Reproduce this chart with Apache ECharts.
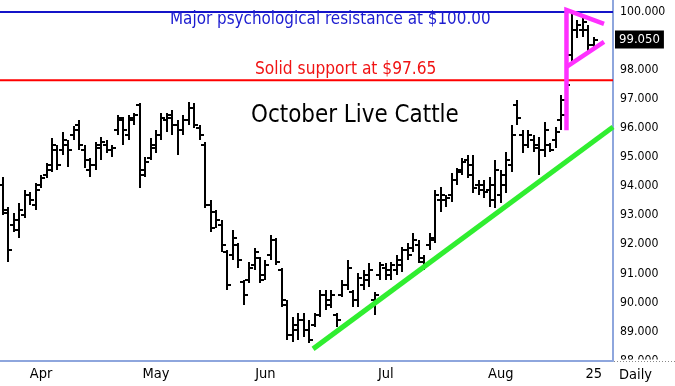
<!DOCTYPE html>
<html><head><meta charset="utf-8">
<script src="https://cdn.jsdelivr.net/npm/echarts@6/dist/echarts.min.js"></script>
<style>html,body{margin:0;padding:0;background:#fff}#c{width:675px;height:386px}</style>
</head><body><div id="c"></div>
<script>
// ---- data (October Live Cattle, daily OHLC) ----
const openP = [94.04,93.18,92.66,92.49,93.01,93.70,93.35,94.04,94.39,94.56,
 95.25,95.25,95.42,95.76,96.11,95.25,94.56,94.73,95.42,95.42,
 95.25,95.94,96.28,95.76,96.35,96.80,94.56,94.97,95.32,95.76,
 96.28,96.45,96.11,95.94,96.28,96.69,96.01,95.42,93.35,93.11,
 92.66,91.74,91.63,91.98,90.70,90.77,91.29,91.53,90.94,91.63,
 92.15,91.12,89.91,88.88,89.05,89.39,89.05,89.22,89.57,90.25,
 90.08,89.57,90.25,90.60,90.36,90.08,90.60,90.77,90.08,90.94,
 91.18,91.12,91.12,91.29,91.80,91.87,91.98,91.39,91.98,92.15,
 93.53,93.53,93.70,94.21,94.56,94.90,94.73,94.04,94.04,93.87,
 93.53,93.70,94.04,94.73,96.80,95.76,95.42,95.59,95.42,95.25,
 95.42,95.59,96.28,96.45,98.52,99.38,99.38,99.38,98.86];
const highP = [94.32,93.29,93.08,93.42,93.87,93.80,94.11,94.39,94.80,95.66,
 95.42,95.87,95.59,96.07,96.28,95.42,94.97,95.52,95.70,95.59,
 95.42,96.45,96.38,96.45,96.52,96.87,95.01,95.66,95.94,96.52,
 96.52,96.63,96.28,96.45,96.90,96.87,96.11,95.52,93.53,93.18,
 92.84,91.80,92.49,92.05,90.77,91.39,91.87,91.56,91.46,92.32,
 92.22,91.18,90.08,89.50,89.63,89.63,89.39,89.63,90.43,90.43,
 90.43,89.63,90.77,91.46,90.43,91.01,91.12,91.36,90.36,91.39,
 91.36,91.39,91.63,91.91,92.05,92.39,92.15,91.63,92.39,93.87,
 93.97,93.70,94.46,94.63,94.97,95.08,95.08,94.21,94.21,94.32,
 94.90,94.56,95.18,96.11,96.97,95.94,95.94,95.76,95.70,96.21,
 95.49,96.04,97.14,97.66,100.00,99.72,99.90,99.55,99.14];
const lowP = [93.01,91.39,92.42,92.22,92.91,93.35,93.18,93.94,94.28,94.49,
 94.56,95.08,94.66,95.59,95.25,94.63,94.32,94.56,94.90,95.14,
 95.01,95.76,95.42,95.59,96.11,93.94,94.32,94.90,95.14,95.59,
 95.87,95.76,95.08,95.76,96.11,96.01,95.59,93.25,92.42,92.56,
 91.74,90.43,91.46,91.18,89.91,90.67,91.12,90.67,90.77,91.46,
 91.29,89.84,88.71,88.64,88.71,88.81,88.60,89.15,89.50,89.74,
 89.81,89.15,90.19,90.43,89.84,89.84,90.43,90.53,89.57,90.77,
 90.77,90.77,90.94,91.05,91.46,91.74,91.36,91.12,91.80,92.05,
 93.11,93.29,93.46,94.04,94.39,94.28,93.77,93.70,93.59,93.29,
 93.25,93.42,93.77,94.49,96.11,95.14,95.32,95.18,94.39,95.01,
 95.18,95.32,95.94,96.28,98.28,99.10,99.14,98.59,98.76];
const closeP = [93.08,91.80,92.84,93.18,93.70,93.53,93.87,94.28,94.73,95.42,
 94.73,95.59,95.25,95.94,95.42,94.90,94.73,95.32,95.52,95.25,
 95.32,96.35,95.94,96.28,96.45,94.39,94.83,95.42,95.76,96.35,
 96.35,96.11,95.94,96.28,96.69,96.11,95.76,93.35,92.56,92.84,
 91.98,90.60,92.22,91.46,90.25,91.18,91.74,90.77,91.29,92.15,
 91.39,90.08,88.88,89.22,89.39,89.05,88.71,89.57,90.25,89.91,
 90.25,89.39,90.60,91.18,90.08,90.84,90.94,91.12,90.25,91.29,
 90.94,91.29,91.46,91.80,91.63,92.15,91.53,91.29,92.22,93.70,
 93.70,93.59,94.21,94.49,94.83,94.39,93.94,93.87,93.80,94.04,
 94.56,94.39,94.90,95.76,96.35,95.42,95.76,95.32,95.25,95.94,
 95.25,95.87,96.97,97.49,99.38,99.55,99.66,98.86,99.05];

// x-axis tick labels (trading-day dates)
const tickDates  = ['2010-04-01','2010-05-03','2010-06-01','2010-07-01','2010-08-02','2010-08-25'];
const tickLabels = ['Apr','May','Jun','Jul','Aug','25'];
const holidays = ['2010-04-02','2010-05-31','2010-07-05'];
const slotCount = 112;

// annotation levels / lines (x = trading-day index, y = price)
const resistance = 100.00;
const support = 97.65;
const trendLine = [[56.7, 88.40], [111.5, 96.04]];
const flagPoleUpper = [[103.0, 95.93], [103.0, 100.07], [109.86, 99.59]];
const flagLower = [[103.0, 98.11], [109.86, 98.97]];

// ---- build categories ----
const dates = [];
{
  const d = new Date(Date.UTC(2010, 2, 23));
  while (dates.length < slotCount) {
    const wd = d.getUTCDay();
    const s = d.toISOString().slice(0, 10);
    if (wd !== 0 && wd !== 6 && holidays.indexOf(s) < 0) dates.push(s);
    d.setUTCDate(d.getUTCDate() + 1);
  }
}
const labelMap = {};
tickDates.forEach((t, k) => labelMap[t] = tickLabels[k]);
const ohlc = openP.map((o, i) => [i, o, highP[i], lowP[i], closeP[i]]);
const lastClose = closeP[closeP.length - 1];

const FONT = '"DejaVu Sans Condensed", "DejaVu Sans", Verdana, sans-serif';
const AXIS_BLUE = '#8ea6dd';

function renderOHLC(params, api) {
  const i = api.value(0);
  const pO = api.coord([i, api.value(1)]);
  const pH = api.coord([i, api.value(2)]);
  const pL = api.coord([i, api.value(3)]);
  const pC = api.coord([i, api.value(4)]);
  const x = Math.round(pO[0]);
  const st = { stroke: '#000', lineWidth: 2 };
  const yo = Math.round(pO[1]), yc = Math.round(pC[1]);
  return {
    type: 'group',
    children: [
      { type: 'line', shape: { x1: x, y1: Math.round(pH[1]), x2: x, y2: Math.round(pL[1]) }, style: st },
      { type: 'line', shape: { x1: x - 4, y1: yo, x2: x, y2: yo }, style: st },
      { type: 'line', shape: { x1: x, y1: yc, x2: x + 4, y2: yc }, style: st }
    ]
  };
}

const chart = echarts.init(document.getElementById('c'));
chart.setOption({
  animation: false,
  backgroundColor: '#fff',
  textStyle: { fontFamily: FONT },
  grid: { left: 0, right: 62, top: 0, bottom: 25.5, containLabel: false },
  xAxis: [
    {
      type: 'category', data: dates, boundaryGap: true,
      axisLine: { onZero: false, lineStyle: { color: AXIS_BLUE, width: 2 } },
      axisTick: { show: false },
      splitLine: { show: false },
      axisLabel: {
        interval: (idx, val) => labelMap[val] !== undefined,
        formatter: (val) => labelMap[val] || '',
        color: '#000', fontSize: 14.5, fontFamily: FONT, margin: 6
      }
    },
    { type: 'value', min: -0.5, max: slotCount - 0.5, show: false }
  ],
  yAxis: {
    type: 'value', position: 'right', min: 88, max: 100.413, interval: 1,
    axisLine: { show: true, onZero: false, lineStyle: { color: AXIS_BLUE, width: 2 } },
    axisTick: { show: false },
    splitLine: { show: false },
    axisLabel: {
      color: '#000', fontSize: 12.2, fontFamily: FONT, margin: 7,
      formatter: (v) => (Math.abs(v - Math.round(v)) > 1e-6 || Math.round(v) === 99) ? '' : v.toFixed(3)
    }
  },
  graphic: [
    { type: 'text', z: 50, style: { x: 170, y: 19.5, text: 'Major psychological resistance at $100.00', font: '16.9px ' + FONT, fill: '#1c1cd0', textAlign: 'left', textVerticalAlign: 'middle' } },
    { type: 'text', z: 50, style: { x: 255, y: 69.5, text: 'Solid support at $97.65', font: '17.2px ' + FONT, fill: '#f01414', textAlign: 'left', textVerticalAlign: 'middle' } },
    { type: 'text', z: 50, style: { x: 251, y: 115.5, text: 'October Live Cattle', font: '23.9px ' + FONT, fill: '#000', textAlign: 'left', textVerticalAlign: 'middle' } },
    { type: 'rect', z: 60, zlevel: 1, shape: { x: 614, y: 359.5, width: 61, height: 8 }, style: { fill: '#fff' } },
    { type: 'line', z: 61, zlevel: 1, shape: { x1: 614, y1: 361.5, x2: 675, y2: 361.5 }, style: { stroke: '#888', lineWidth: 1, lineDash: [1, 2] } },
    { type: 'text', z: 50, style: { x: 619, y: 375, text: 'Daily', font: '14.5px ' + FONT, fill: '#000', textAlign: 'left', textVerticalAlign: 'middle' } }
  ],
  series: [
    {
      type: 'line', xAxisIndex: 1, z: 1, symbol: 'none', silent: true, clip: false,
      data: [[-0.5, resistance], [slotCount - 0.5, resistance]],
      lineStyle: { color: '#1414c8', width: 2 },
      markLine: {
        silent: true, symbol: 'none', animation: false,
        lineStyle: { color: 'rgba(0,0,0,0)', width: 1 },
        label: { show: true, position: 'end', distance: 2, formatter: lastClose.toFixed(3), color: '#fff', backgroundColor: '#000', padding: [3, 4, 2, 4], fontSize: 13, fontFamily: FONT },
        data: [{ yAxis: lastClose }]
      }
    },
    {
      type: 'line', xAxisIndex: 1, z: 1, symbol: 'none', silent: true,
      data: [[-0.5, support], [slotCount - 0.5, support]],
      lineStyle: { color: '#ff0000', width: 2 }
    },
    {
      type: 'custom', xAxisIndex: 0, z: 3, renderItem: renderOHLC,
      encode: { x: 0, y: [1, 2, 3, 4] }, data: ohlc
    },
    {
      type: 'line', xAxisIndex: 1, z: 4, symbol: 'none', silent: true,
      data: trendLine, lineStyle: { color: '#30ee30', width: 5 }
    },
    {
      type: 'line', xAxisIndex: 1, z: 5, symbol: 'none', silent: true,
      data: flagPoleUpper, lineStyle: { color: '#ff30ff', width: 4.5, join: 'miter' }
    },
    {
      type: 'line', xAxisIndex: 1, z: 5, symbol: 'none', silent: true,
      data: flagLower, lineStyle: { color: '#ff30ff', width: 4.5 }
    }
  ]
});
</script>
</body></html>
